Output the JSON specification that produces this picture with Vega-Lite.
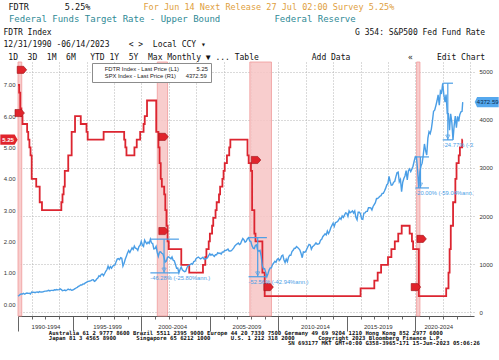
{
  "$schema": "https://vega.github.io/schema/vega-lite/v6.json",
  "width": 456,
  "height": 254,
  "autosize": {"type": "none"},
  "padding": {"left": 18, "top": 62, "right": 25, "bottom": 44},
  "background": "#ffffff",
  "config": {
    "view": {"stroke": null},
    "font": "Liberation Sans",
    "axis": {"labelFont": "Liberation Sans", "labelFontSize": 6, "labelColor": "#333333", "titleFont": "DejaVu Sans Mono", "titleFontWeight": "normal"},
    "legend": {"orient": "none", "legendX": 74, "legendY": 1, "direction": "vertical", "fillColor": "#ffffff", "strokeColor": "#8c8c8c", "padding": 3, "labelFont": "Liberation Sans", "labelFontSize": 5.8, "labelColor": "#222222", "symbolType": "square", "symbolSize": 22, "symbolStrokeWidth": 0, "rowPadding": 0, "labelLimit": 300, "title": null}
  },
  "datasets": {
    "fdtr": [
      {"d": "1990-12-31", "v": 7.00}, {"d": "1991-01-31", "v": 6.75}, {"d": "1991-02-28", "v": 6.25}, {"d": "1991-03-31", "v": 6.00},
      {"d": "1991-04-30", "v": 5.75}, {"d": "1991-08-31", "v": 5.50}, {"d": "1991-09-30", "v": 5.25}, {"d": "1991-10-31", "v": 5.00},
      {"d": "1991-11-30", "v": 4.75}, {"d": "1991-12-31", "v": 4.00}, {"d": "1992-04-30", "v": 3.75}, {"d": "1992-07-31", "v": 3.25},
      {"d": "1992-09-30", "v": 3.00}, {"d": "1994-02-28", "v": 3.25}, {"d": "1994-03-31", "v": 3.50}, {"d": "1994-04-30", "v": 3.75},
      {"d": "1994-05-31", "v": 4.25}, {"d": "1994-08-31", "v": 4.75}, {"d": "1994-11-30", "v": 5.50}, {"d": "1995-02-28", "v": 6.00},
      {"d": "1995-07-31", "v": 5.75}, {"d": "1995-12-31", "v": 5.50}, {"d": "1996-01-31", "v": 5.25}, {"d": "1997-03-31", "v": 5.50},
      {"d": "1998-09-30", "v": 5.25}, {"d": "1998-10-31", "v": 5.00}, {"d": "1998-11-30", "v": 4.75}, {"d": "1999-06-30", "v": 5.00},
      {"d": "1999-08-31", "v": 5.25}, {"d": "1999-11-30", "v": 5.50}, {"d": "2000-02-29", "v": 5.75}, {"d": "2000-03-31", "v": 6.00},
      {"d": "2000-05-31", "v": 6.50}, {"d": "2001-01-31", "v": 5.50}, {"d": "2001-03-31", "v": 5.00}, {"d": "2001-04-30", "v": 4.50},
      {"d": "2001-05-31", "v": 4.00}, {"d": "2001-06-30", "v": 3.75}, {"d": "2001-08-31", "v": 3.50}, {"d": "2001-09-30", "v": 3.00},
      {"d": "2001-10-31", "v": 2.50}, {"d": "2001-11-30", "v": 2.00}, {"d": "2001-12-31", "v": 1.75}, {"d": "2002-11-30", "v": 1.25},
      {"d": "2003-06-30", "v": 1.00}, {"d": "2004-06-30", "v": 1.25}, {"d": "2004-08-31", "v": 1.50}, {"d": "2004-09-30", "v": 1.75},
      {"d": "2004-11-30", "v": 2.00}, {"d": "2004-12-31", "v": 2.25}, {"d": "2005-02-28", "v": 2.50}, {"d": "2005-03-31", "v": 2.75},
      {"d": "2005-05-31", "v": 3.00}, {"d": "2005-06-30", "v": 3.25}, {"d": "2005-08-31", "v": 3.50}, {"d": "2005-09-30", "v": 3.75},
      {"d": "2005-11-30", "v": 4.00}, {"d": "2005-12-31", "v": 4.25}, {"d": "2006-01-31", "v": 4.50}, {"d": "2006-03-31", "v": 4.75},
      {"d": "2006-05-31", "v": 5.00}, {"d": "2006-06-30", "v": 5.25}, {"d": "2007-09-30", "v": 4.75}, {"d": "2007-10-31", "v": 4.50},
      {"d": "2007-12-31", "v": 4.25}, {"d": "2008-01-31", "v": 3.00}, {"d": "2008-03-31", "v": 2.25}, {"d": "2008-04-30", "v": 2.00},
      {"d": "2008-10-31", "v": 1.00}, {"d": "2008-12-31", "v": 0.25}, {"d": "2015-12-31", "v": 0.50}, {"d": "2016-12-31", "v": 0.75},
      {"d": "2017-03-31", "v": 1.00}, {"d": "2017-06-30", "v": 1.25}, {"d": "2017-12-31", "v": 1.50}, {"d": "2018-03-31", "v": 1.75},
      {"d": "2018-06-30", "v": 2.00}, {"d": "2018-09-30", "v": 2.25}, {"d": "2018-12-31", "v": 2.50}, {"d": "2019-07-31", "v": 2.25},
      {"d": "2019-09-30", "v": 2.00}, {"d": "2019-10-31", "v": 1.75}, {"d": "2020-03-31", "v": 0.25}, {"d": "2022-03-31", "v": 0.50},
      {"d": "2022-05-31", "v": 1.00}, {"d": "2022-06-30", "v": 1.75}, {"d": "2022-07-31", "v": 2.50}, {"d": "2022-09-30", "v": 3.25},
      {"d": "2022-11-30", "v": 4.00}, {"d": "2022-12-31", "v": 4.50}, {"d": "2023-02-28", "v": 4.75}, {"d": "2023-03-31", "v": 5.00},
      {"d": "2023-05-31", "v": 5.25}, {"d": "2023-06-14", "v": 5.25}
    ],
    "spx": [
      {"d": "1990-12-31", "v": 330.22},
      {"d": "1991-01-28", "v": 343.93}, {"d": "1991-02-28", "v": 367.07}, {"d": "1991-03-28", "v": 375.22}, {"d": "1991-04-28", "v": 375.35}, {"d": "1991-05-28", "v": 389.83}, {"d": "1991-06-28", "v": 371.16}, {"d": "1991-07-28", "v": 387.81}, {"d": "1991-08-28", "v": 395.43}, {"d": "1991-09-28", "v": 387.86}, {"d": "1991-10-28", "v": 392.46}, {"d": "1991-11-28", "v": 375.22}, {"d": "1991-12-28", "v": 417.09},
      {"d": "1992-01-28", "v": 408.79}, {"d": "1992-02-28", "v": 412.70}, {"d": "1992-03-28", "v": 403.69}, {"d": "1992-04-28", "v": 414.95}, {"d": "1992-05-28", "v": 415.35}, {"d": "1992-06-28", "v": 408.14}, {"d": "1992-07-28", "v": 424.21}, {"d": "1992-08-28", "v": 414.03}, {"d": "1992-09-28", "v": 417.80}, {"d": "1992-10-28", "v": 418.68}, {"d": "1992-11-28", "v": 431.35}, {"d": "1992-12-28", "v": 435.71},
      {"d": "1993-01-28", "v": 438.78}, {"d": "1993-02-28", "v": 443.38}, {"d": "1993-03-28", "v": 451.67}, {"d": "1993-04-28", "v": 440.19}, {"d": "1993-05-28", "v": 450.19}, {"d": "1993-06-28", "v": 450.53}, {"d": "1993-07-28", "v": 448.13}, {"d": "1993-08-28", "v": 463.56}, {"d": "1993-09-28", "v": 458.93}, {"d": "1993-10-28", "v": 467.83}, {"d": "1993-11-28", "v": 461.79}, {"d": "1993-12-28", "v": 466.45},
      {"d": "1994-01-28", "v": 481.61}, {"d": "1994-02-28", "v": 467.14}, {"d": "1994-03-28", "v": 445.77}, {"d": "1994-04-28", "v": 450.91}, {"d": "1994-05-28", "v": 456.50}, {"d": "1994-06-28", "v": 444.27}, {"d": "1994-07-28", "v": 458.26}, {"d": "1994-08-28", "v": 475.49}, {"d": "1994-09-28", "v": 462.69}, {"d": "1994-10-28", "v": 472.35}, {"d": "1994-11-28", "v": 453.69}, {"d": "1994-12-28", "v": 459.27},
      {"d": "1995-01-28", "v": 470.42}, {"d": "1995-02-28", "v": 487.39}, {"d": "1995-03-28", "v": 500.71}, {"d": "1995-04-28", "v": 514.71}, {"d": "1995-05-28", "v": 533.40}, {"d": "1995-06-28", "v": 544.75}, {"d": "1995-07-28", "v": 562.06}, {"d": "1995-08-28", "v": 561.88}, {"d": "1995-09-28", "v": 584.41}, {"d": "1995-10-28", "v": 581.50}, {"d": "1995-11-28", "v": 605.37}, {"d": "1995-12-28", "v": 615.93},
      {"d": "1996-01-28", "v": 636.02}, {"d": "1996-02-28", "v": 640.43}, {"d": "1996-03-28", "v": 645.50}, {"d": "1996-04-28", "v": 654.17}, {"d": "1996-05-28", "v": 669.12}, {"d": "1996-06-28", "v": 670.63}, {"d": "1996-07-28", "v": 639.95}, {"d": "1996-08-28", "v": 651.99}, {"d": "1996-09-28", "v": 687.31}, {"d": "1996-10-28", "v": 705.27}, {"d": "1996-11-28", "v": 757.02}, {"d": "1996-12-28", "v": 740.74},
      {"d": "1997-01-28", "v": 786.16}, {"d": "1997-02-28", "v": 790.82}, {"d": "1997-03-28", "v": 757.12}, {"d": "1997-04-28", "v": 801.34}, {"d": "1997-05-28", "v": 848.28}, {"d": "1997-06-28", "v": 885.14}, {"d": "1997-07-28", "v": 954.29}, {"d": "1997-08-28", "v": 899.47}, {"d": "1997-09-28", "v": 947.28}, {"d": "1997-10-28", "v": 914.62}, {"d": "1997-11-28", "v": 955.40}, {"d": "1997-12-28", "v": 970.43},
      {"d": "1998-01-28", "v": 980.28}, {"d": "1998-02-28", "v": 1049.34}, {"d": "1998-03-28", "v": 1101.75}, {"d": "1998-04-28", "v": 1111.75}, {"d": "1998-05-28", "v": 1090.82}, {"d": "1998-06-28", "v": 1133.84}, {"d": "1998-07-28", "v": 1120.67}, {"d": "1998-08-28", "v": 957.28}, {"d": "1998-09-28", "v": 1017.01}, {"d": "1998-10-28", "v": 1098.67}, {"d": "1998-11-28", "v": 1163.63}, {"d": "1998-12-28", "v": 1229.23},
      {"d": "1999-01-28", "v": 1279.64}, {"d": "1999-02-28", "v": 1238.33}, {"d": "1999-03-28", "v": 1286.37}, {"d": "1999-04-28", "v": 1335.18}, {"d": "1999-05-28", "v": 1301.84}, {"d": "1999-06-28", "v": 1372.71}, {"d": "1999-07-28", "v": 1328.72}, {"d": "1999-08-28", "v": 1320.41}, {"d": "1999-09-28", "v": 1282.71}, {"d": "1999-10-28", "v": 1362.93}, {"d": "1999-11-28", "v": 1388.91}, {"d": "1999-12-28", "v": 1469.25},
      {"d": "2000-01-28", "v": 1394.46}, {"d": "2000-02-28", "v": 1366.42}, {"d": "2000-03-28", "v": 1498.58}, {"d": "2000-04-28", "v": 1452.43}, {"d": "2000-05-28", "v": 1420.60}, {"d": "2000-06-28", "v": 1454.60}, {"d": "2000-07-28", "v": 1430.83}, {"d": "2000-08-28", "v": 1517.68}, {"d": "2000-09-28", "v": 1436.51}, {"d": "2000-10-28", "v": 1429.40}, {"d": "2000-11-28", "v": 1314.95}, {"d": "2000-12-28", "v": 1320.28},
      {"d": "2001-01-28", "v": 1366.01}, {"d": "2001-02-28", "v": 1239.94}, {"d": "2001-03-28", "v": 1160.33}, {"d": "2001-04-28", "v": 1249.46}, {"d": "2001-05-28", "v": 1255.82}, {"d": "2001-06-28", "v": 1224.42}, {"d": "2001-07-28", "v": 1211.23}, {"d": "2001-08-28", "v": 1133.58}, {"d": "2001-09-28", "v": 1040.94}, {"d": "2001-10-28", "v": 1059.78}, {"d": "2001-11-28", "v": 1139.45}, {"d": "2001-12-28", "v": 1148.08},
      {"d": "2002-01-28", "v": 1130.20}, {"d": "2002-02-28", "v": 1106.73}, {"d": "2002-03-28", "v": 1147.39}, {"d": "2002-04-28", "v": 1076.92}, {"d": "2002-05-28", "v": 1067.14}, {"d": "2002-06-28", "v": 989.82}, {"d": "2002-07-28", "v": 911.62}, {"d": "2002-08-28", "v": 916.07}, {"d": "2002-09-28", "v": 815.28}, {"d": "2002-10-28", "v": 885.76}, {"d": "2002-11-28", "v": 936.31}, {"d": "2002-12-28", "v": 879.82},
      {"d": "2003-01-28", "v": 855.70}, {"d": "2003-02-28", "v": 841.15}, {"d": "2003-03-28", "v": 848.18}, {"d": "2003-04-28", "v": 916.92}, {"d": "2003-05-28", "v": 963.59}, {"d": "2003-06-28", "v": 974.50}, {"d": "2003-07-28", "v": 990.31}, {"d": "2003-08-28", "v": 1008.01}, {"d": "2003-09-28", "v": 995.97}, {"d": "2003-10-28", "v": 1050.71}, {"d": "2003-11-28", "v": 1058.20}, {"d": "2003-12-28", "v": 1111.92},
      {"d": "2004-01-28", "v": 1131.13}, {"d": "2004-02-28", "v": 1144.94}, {"d": "2004-03-28", "v": 1126.21}, {"d": "2004-04-28", "v": 1107.30}, {"d": "2004-05-28", "v": 1120.68}, {"d": "2004-06-28", "v": 1140.84}, {"d": "2004-07-28", "v": 1101.72}, {"d": "2004-08-28", "v": 1104.24}, {"d": "2004-09-28", "v": 1114.58}, {"d": "2004-10-28", "v": 1130.20}, {"d": "2004-11-28", "v": 1173.82}, {"d": "2004-12-28", "v": 1211.92},
      {"d": "2005-01-28", "v": 1181.27}, {"d": "2005-02-28", "v": 1203.60}, {"d": "2005-03-28", "v": 1180.59}, {"d": "2005-04-28", "v": 1156.85}, {"d": "2005-05-28", "v": 1191.50}, {"d": "2005-06-28", "v": 1191.33}, {"d": "2005-07-28", "v": 1234.18}, {"d": "2005-08-28", "v": 1220.33}, {"d": "2005-09-28", "v": 1228.81}, {"d": "2005-10-28", "v": 1207.01}, {"d": "2005-11-28", "v": 1249.48}, {"d": "2005-12-28", "v": 1248.29},
      {"d": "2006-01-28", "v": 1280.08}, {"d": "2006-02-28", "v": 1280.66}, {"d": "2006-03-28", "v": 1294.83}, {"d": "2006-04-28", "v": 1310.61}, {"d": "2006-05-28", "v": 1270.09}, {"d": "2006-06-28", "v": 1270.20}, {"d": "2006-07-28", "v": 1276.66}, {"d": "2006-08-28", "v": 1303.82}, {"d": "2006-09-28", "v": 1335.85}, {"d": "2006-10-28", "v": 1377.94}, {"d": "2006-11-28", "v": 1400.63}, {"d": "2006-12-28", "v": 1418.30},
      {"d": "2007-01-28", "v": 1438.24}, {"d": "2007-02-28", "v": 1406.82}, {"d": "2007-03-28", "v": 1420.86}, {"d": "2007-04-28", "v": 1482.37}, {"d": "2007-05-28", "v": 1530.62}, {"d": "2007-06-28", "v": 1503.35}, {"d": "2007-07-28", "v": 1455.27}, {"d": "2007-08-28", "v": 1473.99}, {"d": "2007-09-28", "v": 1526.75}, {"d": "2007-10-28", "v": 1549.38}, {"d": "2007-11-28", "v": 1481.14}, {"d": "2007-12-28", "v": 1468.36},
      {"d": "2008-01-28", "v": 1378.55}, {"d": "2008-02-28", "v": 1330.63}, {"d": "2008-03-28", "v": 1322.70}, {"d": "2008-04-28", "v": 1385.59}, {"d": "2008-05-28", "v": 1400.38}, {"d": "2008-06-28", "v": 1280.00}, {"d": "2008-07-28", "v": 1267.38}, {"d": "2008-08-28", "v": 1282.83}, {"d": "2008-09-28", "v": 1166.36}, {"d": "2008-10-28", "v": 968.75}, {"d": "2008-11-28", "v": 896.24}, {"d": "2008-12-28", "v": 903.25},
      {"d": "2009-01-28", "v": 825.88}, {"d": "2009-02-28", "v": 735.09}, {"d": "2009-03-28", "v": 797.87}, {"d": "2009-04-28", "v": 872.81}, {"d": "2009-05-28", "v": 919.14}, {"d": "2009-06-28", "v": 919.32}, {"d": "2009-07-28", "v": 987.48}, {"d": "2009-08-28", "v": 1020.62}, {"d": "2009-09-28", "v": 1057.08}, {"d": "2009-10-28", "v": 1036.19}, {"d": "2009-11-28", "v": 1095.63}, {"d": "2009-12-28", "v": 1115.10},
      {"d": "2010-01-28", "v": 1073.87}, {"d": "2010-02-28", "v": 1104.49}, {"d": "2010-03-28", "v": 1169.43}, {"d": "2010-04-28", "v": 1186.69}, {"d": "2010-05-28", "v": 1089.41}, {"d": "2010-06-28", "v": 1030.71}, {"d": "2010-07-28", "v": 1101.60}, {"d": "2010-08-28", "v": 1049.33}, {"d": "2010-09-28", "v": 1141.20}, {"d": "2010-10-28", "v": 1183.26}, {"d": "2010-11-28", "v": 1180.55}, {"d": "2010-12-28", "v": 1257.64},
      {"d": "2011-01-28", "v": 1286.12}, {"d": "2011-02-28", "v": 1327.22}, {"d": "2011-03-28", "v": 1325.83}, {"d": "2011-04-28", "v": 1363.61}, {"d": "2011-05-28", "v": 1345.20}, {"d": "2011-06-28", "v": 1320.64}, {"d": "2011-07-28", "v": 1292.28}, {"d": "2011-08-28", "v": 1218.89}, {"d": "2011-09-28", "v": 1131.42}, {"d": "2011-10-28", "v": 1253.30}, {"d": "2011-11-28", "v": 1246.96}, {"d": "2011-12-28", "v": 1257.60},
      {"d": "2012-01-28", "v": 1312.41}, {"d": "2012-02-28", "v": 1365.68}, {"d": "2012-03-28", "v": 1408.47}, {"d": "2012-04-28", "v": 1397.91}, {"d": "2012-05-28", "v": 1310.33}, {"d": "2012-06-28", "v": 1362.16}, {"d": "2012-07-28", "v": 1379.32}, {"d": "2012-08-28", "v": 1406.58}, {"d": "2012-09-28", "v": 1440.67}, {"d": "2012-10-28", "v": 1412.16}, {"d": "2012-11-28", "v": 1416.18}, {"d": "2012-12-28", "v": 1426.19},
      {"d": "2013-01-28", "v": 1498.11}, {"d": "2013-02-28", "v": 1514.68}, {"d": "2013-03-28", "v": 1569.19}, {"d": "2013-04-28", "v": 1597.57}, {"d": "2013-05-28", "v": 1630.74}, {"d": "2013-06-28", "v": 1606.28}, {"d": "2013-07-28", "v": 1685.73}, {"d": "2013-08-28", "v": 1632.97}, {"d": "2013-09-28", "v": 1681.55}, {"d": "2013-10-28", "v": 1756.54}, {"d": "2013-11-28", "v": 1805.81}, {"d": "2013-12-28", "v": 1848.36},
      {"d": "2014-01-28", "v": 1782.59}, {"d": "2014-02-28", "v": 1859.45}, {"d": "2014-03-28", "v": 1872.34}, {"d": "2014-04-28", "v": 1883.95}, {"d": "2014-05-28", "v": 1923.57}, {"d": "2014-06-28", "v": 1960.23}, {"d": "2014-07-28", "v": 1930.67}, {"d": "2014-08-28", "v": 2003.37}, {"d": "2014-09-28", "v": 1972.29}, {"d": "2014-10-28", "v": 2018.05}, {"d": "2014-11-28", "v": 2067.56}, {"d": "2014-12-28", "v": 2058.90},
      {"d": "2015-01-28", "v": 1994.99}, {"d": "2015-02-28", "v": 2104.50}, {"d": "2015-03-28", "v": 2067.89}, {"d": "2015-04-28", "v": 2085.51}, {"d": "2015-05-28", "v": 2107.39}, {"d": "2015-06-28", "v": 2063.11}, {"d": "2015-07-28", "v": 2103.84}, {"d": "2015-08-28", "v": 1972.18}, {"d": "2015-09-28", "v": 1920.03}, {"d": "2015-10-28", "v": 2079.36}, {"d": "2015-11-28", "v": 2080.41}, {"d": "2015-12-28", "v": 2043.94},
      {"d": "2016-01-28", "v": 1940.24}, {"d": "2016-02-28", "v": 1932.23}, {"d": "2016-03-28", "v": 2059.74}, {"d": "2016-04-28", "v": 2065.30}, {"d": "2016-05-28", "v": 2096.95}, {"d": "2016-06-28", "v": 2098.86}, {"d": "2016-07-28", "v": 2173.60}, {"d": "2016-08-28", "v": 2170.95}, {"d": "2016-09-28", "v": 2168.27}, {"d": "2016-10-28", "v": 2126.15}, {"d": "2016-11-28", "v": 2198.81}, {"d": "2016-12-28", "v": 2238.83},
      {"d": "2017-01-28", "v": 2278.87}, {"d": "2017-02-28", "v": 2363.64}, {"d": "2017-03-28", "v": 2362.72}, {"d": "2017-04-28", "v": 2384.20}, {"d": "2017-05-28", "v": 2411.80}, {"d": "2017-06-28", "v": 2423.41}, {"d": "2017-07-28", "v": 2470.30}, {"d": "2017-08-28", "v": 2471.65}, {"d": "2017-09-28", "v": 2519.36}, {"d": "2017-10-28", "v": 2575.26}, {"d": "2017-11-28", "v": 2647.58}, {"d": "2017-12-28", "v": 2673.61},
      {"d": "2018-01-28", "v": 2823.81}, {"d": "2018-02-28", "v": 2713.83}, {"d": "2018-03-28", "v": 2640.87}, {"d": "2018-04-28", "v": 2648.05}, {"d": "2018-05-28", "v": 2705.27}, {"d": "2018-06-28", "v": 2718.37}, {"d": "2018-07-28", "v": 2816.29}, {"d": "2018-08-28", "v": 2901.52}, {"d": "2018-09-28", "v": 2913.98}, {"d": "2018-10-28", "v": 2711.74}, {"d": "2018-11-28", "v": 2760.17}, {"d": "2018-12-28", "v": 2506.85},
      {"d": "2019-01-28", "v": 2704.10}, {"d": "2019-02-28", "v": 2784.49}, {"d": "2019-03-28", "v": 2834.40}, {"d": "2019-04-28", "v": 2945.83}, {"d": "2019-05-28", "v": 2752.06}, {"d": "2019-06-28", "v": 2941.76}, {"d": "2019-07-28", "v": 2980.38}, {"d": "2019-08-28", "v": 2926.46}, {"d": "2019-09-28", "v": 2976.74}, {"d": "2019-10-28", "v": 3037.56}, {"d": "2019-11-28", "v": 3140.98}, {"d": "2019-12-28", "v": 3230.78},
      {"d": "2020-01-28", "v": 3225.52}, {"d": "2020-02-28", "v": 2954.22}, {"d": "2020-03-28", "v": 2584.59}, {"d": "2020-04-28", "v": 2912.43}, {"d": "2020-05-28", "v": 3044.31}, {"d": "2020-06-28", "v": 3100.29}, {"d": "2020-07-28", "v": 3271.12}, {"d": "2020-08-28", "v": 3500.31}, {"d": "2020-09-28", "v": 3363.00}, {"d": "2020-10-28", "v": 3269.96}, {"d": "2020-11-28", "v": 3621.63}, {"d": "2020-12-28", "v": 3756.07},
      {"d": "2021-01-28", "v": 3714.24}, {"d": "2021-02-28", "v": 3811.15}, {"d": "2021-03-28", "v": 3972.89}, {"d": "2021-04-28", "v": 4181.17}, {"d": "2021-05-28", "v": 4204.11}, {"d": "2021-06-28", "v": 4297.50}, {"d": "2021-07-28", "v": 4395.26}, {"d": "2021-08-28", "v": 4522.68}, {"d": "2021-09-28", "v": 4307.54}, {"d": "2021-10-28", "v": 4605.38}, {"d": "2021-11-28", "v": 4567.00}, {"d": "2021-12-28", "v": 4766.18},
      {"d": "2022-01-28", "v": 4515.55}, {"d": "2022-02-28", "v": 4373.94}, {"d": "2022-03-28", "v": 4530.41}, {"d": "2022-04-28", "v": 4131.93}, {"d": "2022-05-28", "v": 4132.15}, {"d": "2022-06-28", "v": 3785.38}, {"d": "2022-07-28", "v": 4130.29}, {"d": "2022-08-28", "v": 3955.00}, {"d": "2022-09-28", "v": 3585.62}, {"d": "2022-10-28", "v": 3871.98}, {"d": "2022-11-28", "v": 4080.11}, {"d": "2022-12-28", "v": 3839.50},
      {"d": "2023-01-28", "v": 4076.60}, {"d": "2023-02-28", "v": 3970.15}, {"d": "2023-03-28", "v": 4109.31}, {"d": "2023-04-28", "v": 4169.48}, {"d": "2023-05-28", "v": 4179.83}, {"d": "2023-06-14", "v": 4372.59}
    ],
    "rec": [
      {"s": "1990-12-31", "e": "1991-04-10"},
      {"s": "2001-03-01", "e": "2001-11-30"},
      {"s": "2007-12-01", "e": "2009-06-30"},
      {"s": "2020-02-01", "e": "2020-04-30"}
    ],
    "tags": [
      {"d": "1991-04-15", "v": 7.48}, {"d": "1991-02-15", "v": 6.1},
      {"d": "2001-08-15", "v": 5.34}, {"d": "2001-08-15", "v": 2.33},
      {"d": "2008-05-15", "v": 4.6}, {"d": "2009-04-15", "v": 0.54},
      {"d": "2020-06-15", "v": 2.08}, {"d": "2020-01-15", "v": 0.54}
    ],
    "ann": [
      {"d1": "2000-08-28", "d2": "2002-09-28", "dm": "2001-08-28", "v1": 1517.68, "v2": 815.28, "label": "-46.28% (-25.80%ann.)"},
      {"d1": "2007-10-28", "d2": "2009-02-28", "dm": "2008-06-28", "v1": 1549.38, "v2": 735.09, "label": "-52.56% (-42.94%ann.)"},
      {"d1": "2019-12-28", "d2": "2020-12-28", "dm": "2020-05-15", "v1": 3230.78, "v2": 2584.59, "label": "-20.00% (-59.04%ann.)"},
      {"d1": "2021-12-28", "d2": "2022-09-28", "dm": "2022-05-13", "v1": 4766.18, "v2": 3585.62, "label": "-24.77% (-31.60%ann.)"}
    ],
    "last": [
      {"d": "1990-12-31", "v": 5.25, "label": "5.25"},
      {"d": "2023-06-14", "v": 4372.59, "label": "4372.59"}
    ]
  },
  "resolve": {"scale": {"y": "independent"}, "axis": {"x": "independent", "y": "independent"}},
  "layer": [
    {
      "data": {"name": "rec"},
      "mark": {"type": "rect", "fill": "#f7c4c4", "fillOpacity": 0.85, "stroke": "#f09a9a", "strokeWidth": 0.8},
      "encoding": {
        "x": {"field": "s", "type": "temporal",
          "scale": {"domain": [{"year": 1990, "month": 12, "date": 31, "utc": true}, {"year": 2024, "month": 4, "date": 10, "utc": true}]},
          "axis": {"orient": "bottom", "values": [{"year": 1991, "utc": true}, {"year": 1995, "utc": true}, {"year": 2000, "utc": true}, {"year": 2005, "utc": true}, {"year": 2010, "utc": true}, {"year": 2015, "utc": true}, {"year": 2020, "utc": true}],
            "labels": false, "grid": false, "ticks": true, "tickSize": 15, "tickColor": "#666666", "tickWidth": 1, "domain": true, "domainColor": "#555555", "domainWidth": 1.2, "title": null}},
        "x2": {"field": "e"}
      }
    },
    {
      "data": {"name": "fdtr"},
      "mark": {"type": "line", "interpolate": "step-after", "strokeWidth": 1.8},
      "encoding": {
        "x": {"field": "d", "type": "temporal",
          "scale": {"domain": [{"year": 1990, "month": 12, "date": 31, "utc": true}, {"year": 2024, "month": 4, "date": 10, "utc": true}]},
          "axis": {"orient": "bottom", "values": [{"year": 1992, "utc": true}, {"year": 1994, "utc": true}, {"year": 1996, "utc": true}, {"year": 1998, "utc": true}, {"year": 2000, "utc": true}, {"year": 2002, "utc": true}, {"year": 2004, "utc": true}, {"year": 2006, "utc": true}, {"year": 2008, "utc": true}, {"year": 2010, "utc": true}, {"year": 2012, "utc": true}, {"year": 2014, "utc": true}, {"year": 2016, "utc": true}, {"year": 2018, "utc": true}, {"year": 2020, "utc": true}, {"year": 2022, "utc": true}, {"year": 2024, "utc": true}],
            "labels": false, "ticks": false, "domain": false, "grid": true, "gridColor": "#b5b5b5", "gridDash": [1, 2], "gridWidth": 1, "title": null}},
        "y": {"field": "v", "type": "quantitative", "scale": {"domain": [-0.383, 7.73], "nice": false, "zero": false},
          "axis": {"orient": "left", "values": [0, 1, 2, 3, 4, 5, 6, 7], "format": ".2f", "grid": false, "domain": false, "ticks": false, "labelPadding": 3, "title": null}},
        "color": {"datum": "FDTR Index - Last Price (L1)\u00a0\u00a0\u00a0\u00a0\u00a0\u00a0\u00a0\u00a0\u00a0\u00a0\u00a05.25", "type": "nominal",
          "scale": {"domain": ["FDTR Index - Last Price (L1)\u00a0\u00a0\u00a0\u00a0\u00a0\u00a0\u00a0\u00a0\u00a0\u00a0\u00a05.25", "SPX Index - Last Price (R1)\u00a0\u00a0\u00a0\u00a0\u00a0\u00a04372.59"], "range": ["#dc2530", "#4a9ee6"]}}
      }
    },
    {
      "data": {"name": "spx"},
      "mark": {"type": "line", "strokeWidth": 1.4},
      "encoding": {
        "x": {"field": "d", "type": "temporal",
          "scale": {"domain": [{"year": 1990, "month": 12, "date": 31, "utc": true}, {"year": 2024, "month": 4, "date": 10, "utc": true}]},
          "axis": {"orient": "bottom", "values": [{"year": 1993, "month": 1, "utc": true}, {"year": 1997, "month": 7, "utc": true}, {"year": 2002, "month": 4, "utc": true}, {"year": 2007, "month": 9, "utc": true}, {"year": 2012, "month": 9, "utc": true}, {"year": 2017, "month": 4, "utc": true}, {"year": 2021, "month": 9, "utc": true}],
            "labelExpr": "(floor(utcyear(datum.value)/5)*5) + '-' + (floor(utcyear(datum.value)/5)*5+4)",
            "labelFontSize": 6, "labelPadding": 7, "labelOverlap": false, "labelFlush": false,
            "ticks": false, "domain": false, "grid": false,
            "title": [
              "\u200b\u00a0\u00a0\u00a0\u00a0\u00a0\u00a0\u00a0\u00a0\u00a0Australia 61 2 9777 8600 Brazil 5511 2395 9000 Europe 44 20 7330 7500 Germany 49 69 9204 1210 Hong Kong 852 2977 6000",
              "\u200b\u00a0\u00a0\u00a0\u00a0\u00a0\u00a0\u00a0\u00a0\u00a0Japan 81 3 4565 8900\u00a0\u00a0\u00a0\u00a0\u00a0\u00a0Singapore 65 6212 1000\u00a0\u00a0\u00a0\u00a0\u00a0\u00a0U.S. 1 212 318 2000\u00a0\u00a0\u00a0\u00a0\u00a0\u00a0\u00a0Copyright 2023 Bloomberg Finance L.P.",
              "\u200b\u00a0\u00a0\u00a0\u00a0\u00a0\u00a0\u00a0\u00a0\u00a0\u00a0\u00a0\u00a0\u00a0\u00a0\u00a0\u00a0\u00a0\u00a0\u00a0\u00a0\u00a0\u00a0\u00a0\u00a0\u00a0\u00a0\u00a0\u00a0\u00a0\u00a0\u00a0\u00a0\u00a0\u00a0\u00a0\u00a0\u00a0\u00a0\u00a0\u00a0\u00a0\u00a0\u00a0\u00a0\u00a0\u00a0\u00a0\u00a0\u00a0\u00a0\u00a0\u00a0\u00a0\u00a0\u00a0\u00a0\u00a0\u00a0\u00a0\u00a0\u00a0\u00a0\u00a0\u00a0\u00a0\u00a0\u00a0\u00a0\u00a0\u00a0\u00a0\u00a0\u00a0\u00a0\u00a0\u00a0\u00a0\u00a0\u00a0\u00a0SN 693177 MKT GMT+0:00 G358-3965-171 15-Jun-2023 05:06:26"
            ],
            "titleFont": "DejaVu Sans Mono", "titleFontWeight": "bold", "titleFontSize": 5.6, "titleLineHeight": 5.3, "titleColor": "#111111",
            "titleAnchor": "start", "titleAlign": "left", "titlePadding": 1}},
        "y": {"field": "v", "type": "quantitative", "scale": {"domain": [-83, 5208], "nice": false, "zero": false},
          "axis": {"orient": "right", "values": [0, 1000, 2000, 3000, 4000, 5000], "format": "d", "grid": true, "gridColor": "#b5b5b5", "gridDash": [1, 2], "domain": false, "ticks": false, "labelPadding": 5, "title": null}},
        "color": {"datum": "SPX Index - Last Price (R1)\u00a0\u00a0\u00a0\u00a0\u00a0\u00a04372.59", "type": "nominal"}
      }
    },
    {
      "data": {"name": "tags"},
      "mark": {"type": "point", "shape": "M-1,-0.75L0.35,-0.75L1,0L0.35,0.75L-1,0.75Z", "size": 90, "filled": true, "fill": "#e0242c", "stroke": "#9a1016", "strokeWidth": 0.6, "opacity": 1},
      "encoding": {
        "x": {"field": "d", "type": "temporal",
          "scale": {"domain": [{"year": 1990, "month": 12, "date": 31, "utc": true}, {"year": 2024, "month": 4, "date": 10, "utc": true}]},
          "axis": {"orient": "top", "labels": false, "ticks": false, "domain": false, "grid": false,
            "title": "\u200b\u00a0Federal Funds Target Rate - Upper Bound\u00a0\u00a0\u00a0\u00a0\u00a0\u00a0\u00a0\u00a0\u00a0\u00a0Federal Reserve",
            "titleFont": "DejaVu Sans Mono", "titleFontSize": 9, "titleColor": "#2f8a96", "titleFontWeight": "normal",
            "titleAnchor": "start", "titleAlign": "left", "titleX": -15, "titlePadding": 39}},
        "y": {"field": "v", "type": "quantitative", "scale": {"domain": [-0.383, 7.73], "nice": false, "zero": false}, "axis": null}
      }
    },
    {
      "data": {"name": "ann"},
      "mark": {"type": "rule", "color": "#4a9ee6", "strokeWidth": 1.2},
      "encoding": {
        "x": {"field": "d1", "type": "temporal",
          "scale": {"domain": [{"year": 1990, "month": 12, "date": 31, "utc": true}, {"year": 2024, "month": 4, "date": 10, "utc": true}]},
          "axis": {"orient": "bottom", "values": [{"year": 1992, "utc": true}, {"year": 1993, "utc": true}, {"year": 1994, "utc": true}, {"year": 1996, "utc": true}, {"year": 1997, "utc": true}, {"year": 1998, "utc": true}, {"year": 1999, "utc": true}, {"year": 2001, "utc": true}, {"year": 2002, "utc": true}, {"year": 2003, "utc": true}, {"year": 2004, "utc": true}, {"year": 2006, "utc": true}, {"year": 2007, "utc": true}, {"year": 2008, "utc": true}, {"year": 2009, "utc": true}, {"year": 2011, "utc": true}, {"year": 2012, "utc": true}, {"year": 2013, "utc": true}, {"year": 2014, "utc": true}, {"year": 2016, "utc": true}, {"year": 2017, "utc": true}, {"year": 2018, "utc": true}, {"year": 2019, "utc": true}, {"year": 2021, "utc": true}, {"year": 2022, "utc": true}, {"year": 2023, "utc": true}],
            "labels": false, "grid": false, "domain": false, "ticks": true, "tickSize": 3, "tickColor": "#666666", "title": null}},
        "x2": {"field": "d2"},
        "y": {"field": "v1", "type": "quantitative", "scale": {"domain": [-83, 5208], "nice": false, "zero": false}, "axis": null}
      }
    },
    {
      "data": {"name": "ann"},
      "mark": {"type": "rule", "color": "#4a9ee6", "strokeWidth": 1.2},
      "encoding": {
        "x": {"field": "d1", "type": "temporal", "scale": {"domain": [{"year": 1990, "month": 12, "date": 31, "utc": true}, {"year": 2024, "month": 4, "date": 10, "utc": true}]}, "axis": null},
        "x2": {"field": "d2"},
        "y": {"field": "v2", "type": "quantitative", "scale": {"domain": [-83, 5208], "nice": false, "zero": false},
          "axis": {"orient": "left", "labels": false, "ticks": false, "domain": false, "grid": false,
            "title": "FDTR\u00a0\u00a0\u00a0\u00a0\u00a0\u00a0\u00a05.25%",
            "titleAngle": 0, "titleX": -10, "titleY": -56, "titleAlign": "left", "titleBaseline": "middle",
            "titleFont": "DejaVu Sans Mono", "titleFontSize": 8.5, "titleColor": "#111111", "titleFontWeight": "normal"}}
      }
    },
    {
      "data": {"name": "ann"},
      "mark": {"type": "rule", "color": "#4a9ee6", "strokeWidth": 1.2},
      "encoding": {
        "x": {"field": "dm", "type": "temporal", "scale": {"domain": [{"year": 1990, "month": 12, "date": 31, "utc": true}, {"year": 2024, "month": 4, "date": 10, "utc": true}]}, "axis": null},
        "y": {"field": "v1", "type": "quantitative", "scale": {"domain": [-83, 5208], "nice": false, "zero": false},
          "axis": {"orient": "left", "labels": false, "ticks": false, "domain": false, "grid": false,
            "title": "For Jun 14 Next Release 27 Jul 02:00 Survey 5.25%",
            "titleAngle": 0, "titleX": 125, "titleY": -56, "titleAlign": "left", "titleBaseline": "middle",
            "titleFont": "DejaVu Sans Mono", "titleFontSize": 8.5, "titleColor": "#e0a040", "titleFontWeight": "normal"}},
        "y2": {"field": "v2"}
      }
    },
    {
      "data": {"name": "ann"},
      "mark": {"type": "point", "shape": "triangle-down", "filled": false, "size": 18, "color": "#4a9ee6", "strokeWidth": 1, "yOffset": -3},
      "encoding": {
        "x": {"field": "dm", "type": "temporal", "scale": {"domain": [{"year": 1990, "month": 12, "date": 31, "utc": true}, {"year": 2024, "month": 4, "date": 10, "utc": true}]}, "axis": null},
        "y": {"field": "v2", "type": "quantitative", "scale": {"domain": [-83, 5208], "nice": false, "zero": false}, "axis": null}
      }
    },
    {
      "data": {"name": "ann"},
      "mark": {"type": "text", "align": "left", "baseline": "top", "dy": 2, "fontSize": 5.8, "color": "#4a9ee6", "clip": true},
      "encoding": {
        "x": {"field": "d1", "type": "temporal",
          "scale": {"domain": [{"year": 1990, "month": 12, "date": 31, "utc": true}, {"year": 2024, "month": 4, "date": 10, "utc": true}]},
          "axis": {"orient": "top", "labels": false, "ticks": false, "domain": false, "grid": false,
            "title": [
              "FDTR Index\u00a0\u00a0\u00a0\u00a0\u00a0\u00a0\u00a0\u00a0\u00a0\u00a0\u00a0\u00a0\u00a0\u00a0\u00a0\u00a0\u00a0\u00a0\u00a0\u00a0\u00a0\u00a0\u00a0\u00a0\u00a0\u00a0\u00a0\u00a0\u00a0\u00a0\u00a0\u00a0\u00a0\u00a0\u00a0\u00a0\u00a0\u00a0\u00a0\u00a0\u00a0\u00a0\u00a0\u00a0\u00a0\u00a0\u00a0\u00a0\u00a0\u00a0\u00a0\u00a0\u00a0\u00a0\u00a0\u00a0\u00a0\u00a0\u00a0\u00a0\u00a0\u00a0\u00a0G 354: S&P500 Fed Fund Rate",
              "12/31/1990\u00a0-06/14/2023\u00a0\u00a0\u00a0\u00a0<\u00a0>\u00a0\u00a0Local CCY\u00a0\u25be",
              "\u200b\u00a01D\u00a0\u00a03D\u00a0\u00a01M\u00a0\u00a06M\u00a0\u00a0\u00a0YTD\u00a01Y\u00a0\u00a05Y\u00a0\u00a0Max\u00a0Monthly\u00a0\u25bc\u00a0...\u00a0Table\u00a0\u00a0\u00a0\u00a0\u00a0\u00a0\u00a0\u00a0\u00a0\u00a0\u00a0Add Data\u00a0\u00a0\u00a0\u00a0\u00a0\u00a0\u00a0\u00a0\u00a0\u00a0\u00a0\u00a0\u00ab\u00a0\u00a0\u00a0\u00a0\u00a0Edit Chart"
            ],
            "titleFont": "DejaVu Sans Mono", "titleFontSize": 8, "titleLineHeight": 12.5, "titleColor": "#111111", "titleFontWeight": "normal",
            "titleAnchor": "start", "titleAlign": "left", "titleX": -15, "titlePadding": 1}},
        "y": {"field": "v2", "type": "quantitative", "scale": {"domain": [-83, 5208], "nice": false, "zero": false}, "axis": null},
        "text": {"field": "label"}
      }
    },
    {
      "data": {"name": "last"},
      "transform": [{"filter": "datum.label == '5.25'"}],
      "layer": [
        {"mark": {"type": "point", "shape": "M-1,-0.6L0.65,-0.6L1,0L0.65,0.6L-1,0.6Z", "size": 300, "filled": true, "fill": "#e0242c", "opacity": 1, "xOffset": -9}},
        {"mark": {"type": "text", "color": "#ffffff", "fontSize": 6, "fontWeight": "bold", "xOffset": -10, "align": "center", "baseline": "middle"}, "encoding": {"text": {"field": "label"}}}
      ],
      "encoding": {
        "x": {"field": "d", "type": "temporal", "scale": {"domain": [{"year": 1990, "month": 12, "date": 31, "utc": true}, {"year": 2024, "month": 4, "date": 10, "utc": true}]}, "axis": null},
        "y": {"field": "v", "type": "quantitative", "scale": {"domain": [-0.383, 7.73], "nice": false, "zero": false}, "axis": null}
      }
    },
    {
      "data": {"name": "last"},
      "transform": [{"filter": "datum.label == '4372.59'"}],
      "layer": [
        {"mark": {"type": "point", "shape": "M-1,0L-0.8,-0.42L1,-0.42L1,0.42L-0.8,0.42Z", "size": 576, "filled": true, "fill": "#55a8ee", "opacity": 1, "xOffset": 24}},
        {"mark": {"type": "text", "color": "#0b2a4f", "fontSize": 6, "xOffset": 25, "align": "center", "baseline": "middle"}, "encoding": {"text": {"field": "label"}}}
      ],
      "encoding": {
        "x": {"field": "d", "type": "temporal", "scale": {"domain": [{"year": 1990, "month": 12, "date": 31, "utc": true}, {"year": 2024, "month": 4, "date": 10, "utc": true}]}, "axis": null},
        "y": {"field": "v", "type": "quantitative", "scale": {"domain": [-83, 5208], "nice": false, "zero": false}, "axis": null}
      }
    }
  ]
}
